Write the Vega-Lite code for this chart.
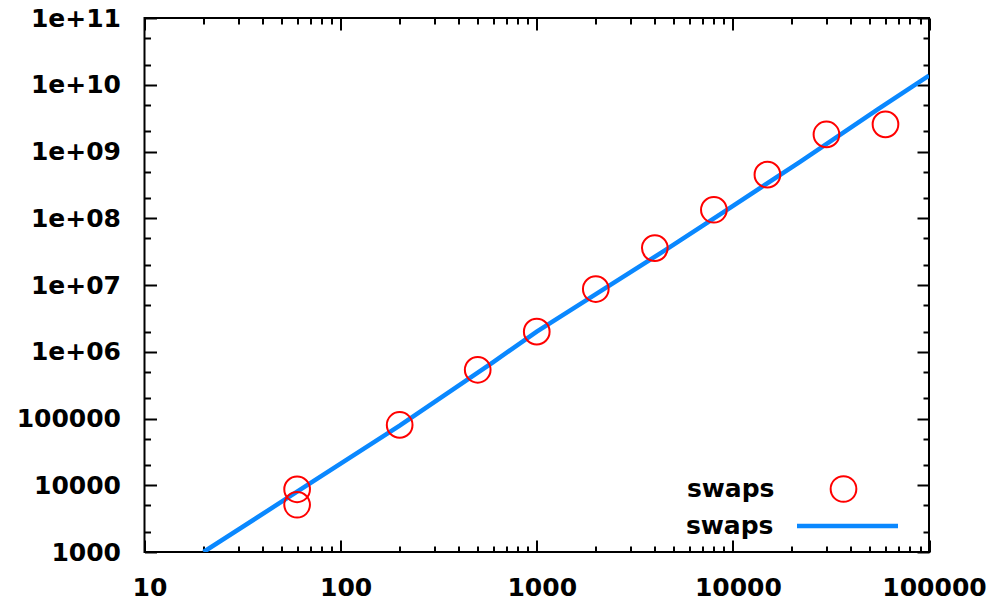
{
  "$schema": "https://vega.github.io/schema/vega-lite/v6.json",
  "autosize": "none",
  "width": 784.5,
  "height": 534,
  "padding": {"left": 144.5, "top": 18, "right": 59, "bottom": 51},
  "background": "white",
  "config": {
    "view": {"stroke": "black", "strokeWidth": 2},
    "axis": {
      "labelFont": "DejaVu Sans",
      "labelFontWeight": "bold",
      "labelFontSize": 25,
      "labelColor": "black",
      "domain": false,
      "grid": false,
      "title": null,
      "tickColor": "black",
      "tickWidth": 2
    },
    "legend": {
      "labelFont": "DejaVu Sans",
      "labelFontWeight": "bold",
      "labelFontSize": 25,
      "labelColor": "black",
      "padding": 0,
      "labelLimit": 400
    }
  },
  "datasets": {
    "fit": [
      {"n": 20, "swaps": 1000},
      {"n": 60, "swaps": 8000},
      {"n": 200, "swaps": 78000},
      {"n": 600, "swaps": 700000},
      {"n": 1000, "swaps": 2000000},
      {"n": 1800, "swaps": 6000000},
      {"n": 4500, "swaps": 33000000},
      {"n": 9000, "swaps": 125000000},
      {"n": 22000, "swaps": 700000000},
      {"n": 55000, "swaps": 4300000000},
      {"n": 100000, "swaps": 13700000000}
    ],
    "measured": [
      {"n": 60, "swaps": 8700},
      {"n": 60, "swaps": 5100},
      {"n": 200, "swaps": 80000},
      {"n": 500, "swaps": 536000},
      {"n": 1000, "swaps": 2000000},
      {"n": 2000, "swaps": 8700000},
      {"n": 4000, "swaps": 35700000},
      {"n": 8000, "swaps": 134000000},
      {"n": 15000, "swaps": 450000000},
      {"n": 30000, "swaps": 1800000000},
      {"n": 60000, "swaps": 2550000000}
    ]
  },
  "resolve": {
    "scale": {"x": "shared", "y": "shared"},
    "axis": {"x": "independent", "y": "independent"}
  },
  "layer": [
    {
      "data": {"name": "fit"},
      "mark": {"type": "line", "strokeWidth": 4.5, "clip": true},
      "encoding": {
        "x": {
          "field": "n", "type": "quantitative",
          "scale": {"type": "log", "domain": [10, 100000], "nice": false},
          "axis": {
            "orient": "bottom", "ticks": false,
            "values": [10, 100, 1000, 10000, 100000],
            "format": "d", "labelPadding": 23, "labelOffset": 5,
            "labelFlush": false, "labelOverlap": false
          }
        },
        "y": {
          "field": "swaps", "type": "quantitative",
          "scale": {"type": "log", "domain": [1000, 100000000000], "nice": false},
          "axis": {
            "orient": "left", "ticks": false,
            "values": [1000, 10000, 100000, 1000000, 10000000, 100000000, 1000000000, 10000000000, 100000000000],
            "labelExpr": "datum.value < 1e6 ? format(datum.value, 'd') : (datum.value >= 1e10 ? '1e+' + round(log(datum.value)/LN10) : '1e+0' + round(log(datum.value)/LN10))",
            "labelPadding": 24, "labelFlush": false, "labelOverlap": false
          }
        },
        "color": {
          "datum": "fit",
          "scale": {"range": ["#0a88ff"]},
          "legend": {
            "title": null, "orient": "none", "legendX": 650, "legendY": 455,
            "symbolType": "stroke", "symbolSize": 10200, "symbolStrokeWidth": 4.5,
            "labelAlign": "right", "labelOffset": -127,
            "labelExpr": "'swaps'"
          }
        }
      }
    },
    {
      "data": {"name": "measured"},
      "mark": {"type": "point", "shape": "circle", "filled": false, "size": 660, "strokeWidth": 2, "opacity": 1},
      "encoding": {
        "x": {
          "field": "n", "type": "quantitative",
          "axis": {
            "orient": "bottom", "labels": false,
            "values": [10,20,30,40,50,60,70,80,90,100,200,300,400,500,600,700,800,900,1000,2000,3000,4000,5000,6000,7000,8000,9000,10000,20000,30000,40000,50000,60000,70000,80000,90000,100000],
            "tickSize": {"condition": {"test": "abs(log(datum.value)/LN10 - round(log(datum.value)/LN10)) < 0.001", "value": -12}, "value": -6}
          }
        },
        "y": {
          "field": "swaps", "type": "quantitative",
          "axis": {
            "orient": "left", "labels": false,
            "values": [1000,2000,5000,10000,20000,50000,100000,200000,500000,1000000,2000000,5000000,10000000,20000000,50000000,100000000,200000000,500000000,1000000000,2000000000,5000000000,10000000000,20000000000,50000000000,100000000000],
            "tickSize": {"condition": {"test": "abs(log(datum.value)/LN10 - round(log(datum.value)/LN10)) < 0.001", "value": -12}, "value": -6}
          }
        },
        "stroke": {
          "datum": "pts",
          "scale": {"range": ["#ff0000"]},
          "legend": {
            "title": null, "orient": "none", "legendX": 685, "legendY": 457,
            "symbolType": "circle", "symbolSize": 660, "symbolStrokeWidth": 2,
            "symbolFillColor": "transparent",
            "labelAlign": "right", "labelOffset": -83,
            "labelExpr": "'swaps'"
          }
        }
      }
    },
    {
      "data": {"name": "measured"},
      "mark": {"type": "point", "opacity": 0},
      "encoding": {
        "x": {
          "field": "n", "type": "quantitative",
          "axis": {
            "orient": "top", "labels": false,
            "values": [10,20,30,40,50,60,70,80,90,100,200,300,400,500,600,700,800,900,1000,2000,3000,4000,5000,6000,7000,8000,9000,10000,20000,30000,40000,50000,60000,70000,80000,90000,100000],
            "tickSize": {"condition": {"test": "abs(log(datum.value)/LN10 - round(log(datum.value)/LN10)) < 0.001", "value": -12}, "value": -6}
          }
        },
        "y": {
          "field": "swaps", "type": "quantitative",
          "axis": {
            "orient": "right", "labels": false,
            "values": [1000,2000,5000,10000,20000,50000,100000,200000,500000,1000000,2000000,5000000,10000000,20000000,50000000,100000000,200000000,500000000,1000000000,2000000000,5000000000,10000000000,20000000000,50000000000,100000000000],
            "tickSize": {"condition": {"test": "abs(log(datum.value)/LN10 - round(log(datum.value)/LN10)) < 0.001", "value": -12}, "value": -6}
          }
        }
      }
    }
  ]
}
